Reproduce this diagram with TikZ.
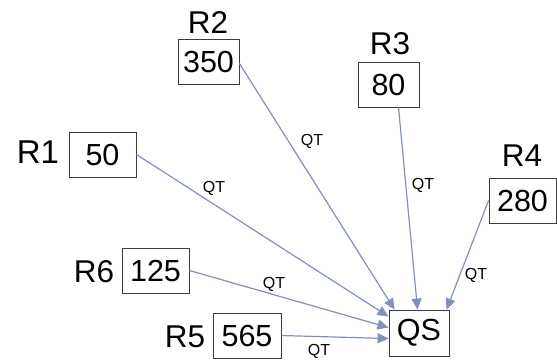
\documentclass[tikz,border=0pt]{standalone}
\usepackage{fontspec}
\setmainfont{Liberation Sans}
\usetikzlibrary{arrows.meta,calc}
\definecolor{arrowc}{RGB}{130,144,188}
\definecolor{boxc}{RGB}{60,60,60}
\begin{document}
\begin{tikzpicture}[x=1pt,y=-1pt,
  valbox/.style={draw=boxc,line width=0.9pt,inner sep=0pt,minimum height=45pt,font=\fontsize{30.5}{30.5}\selectfont},
  rlabel/.style={inner sep=0pt,font=\fontsize{31.5}{31.5}\selectfont},
  qt/.style={inner sep=0pt,font=\fontsize{16}{16}\selectfont},
  flow/.style={draw=arrowc,line width=1.2pt,-{Triangle[length=11pt,width=10pt]}}]
\useasboundingbox (0,0) rectangle (557,360);
% boxes
\node[valbox,minimum width=61pt] (b2) at (208.5,61.5) {350};
\node[valbox,minimum width=67pt] (b1) at (102.5,154.5) {50};
\node[valbox,minimum width=61pt] (b3) at (388.5,84.5) {80};
\node[valbox,minimum width=67pt] (b4) at (522.5,200.5) {280};
\node[valbox,minimum width=67pt] (b6) at (155.5,270.5) {125};
\node[valbox,minimum width=68pt] (b5) at (247,335.5) {565};
\node[valbox,minimum width=60pt,minimum height=46pt] (qs) at (419,333) {QS};
% labels
\node[rlabel] (l2) at (208,22) {R2};
\node[rlabel,font=\fontsize{33}{33}\selectfont] (l1) at (38,152) {R1};
\node[rlabel] (l3) at (390,44) {R3};
\node[rlabel] (l4) at (522,156) {R4};
\node[rlabel] (l6) at (94,272) {R6};
\node[rlabel] (l5) at (185,337) {R5};
% end points on QS
\coordinate (e2) at ($(qs.north west)+(6,0)$);
\coordinate (e3) at ($(qs.north west)+(29,0)$);
\coordinate (e4) at ($(qs.north west)+(58,0)$);
\coordinate (e1) at ($(qs.north west)+(0,7)$);
\coordinate (e6) at ($(qs.north west)+(0,18)$);
\coordinate (e5) at ($(qs.north west)+(0,29)$);
\coordinate (s2) at ($(b2.east)+(0,2)$);
\coordinate (s3) at ($(b3.south)+(10,0)$);
% connectors
\draw[flow] (s2) -- (e2);
\draw[flow] (s3) -- (e3);
\draw[flow] (b4.west) -- (e4);
\draw[flow] (b1.east) -- (e1);
\draw[flow] (b6.east) -- (e6);
\draw[flow] (b5.east) -- (e5);
% QT labels
\node[qt] (q2) at (312,141) {QT};
\node[qt] (q1) at (214,188) {QT};
\node[qt] (q3) at (423,185) {QT};
\node[qt] (q4) at (476,275) {QT};
\node[qt] (q6) at (274,284) {QT};
\node[qt] (q5) at (319,351) {QT};
\end{tikzpicture}
\end{document}
